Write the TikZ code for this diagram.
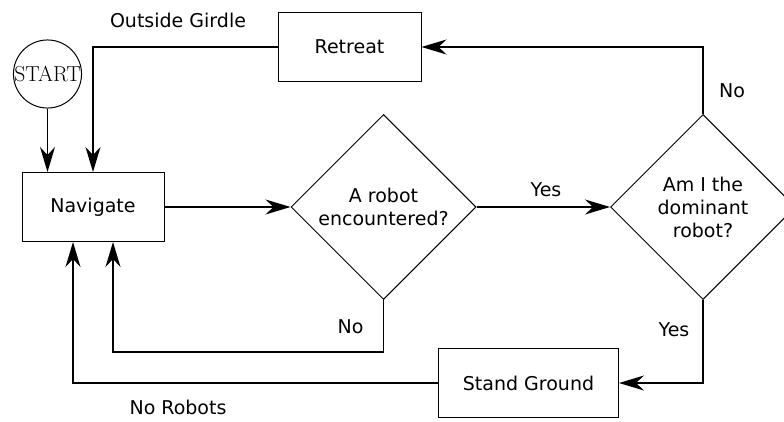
\documentclass[tikz,border=0pt]{standalone}
\usepackage{fontspec}
\usepackage{tikz}
\usetikzlibrary{shapes.geometric, arrows.meta}
\newfontfamily\flowfont{DejaVu Sans}
\tikzstyle{arrow} = [line width=1.4pt,-{Stealth[length=25pt,width=15pt,inset=8pt]}]
\tikzstyle{process} = [rectangle, draw, line width=1pt, minimum height=69pt, inner sep=0pt,
  font=\flowfont\fontsize{19}{23}\selectfont]
\tikzstyle{decision} = [diamond, draw, line width=1pt, minimum size=185pt, inner sep=0pt,
  align=center, font=\flowfont\fontsize{19}{23}\selectfont]
\tikzstyle{startstop} = [circle, draw, line width=1pt, inner sep=0pt,
  font=\fontsize{21.7}{25}\selectfont]
\tikzstyle{lbl} = [font=\flowfont\fontsize{19}{23}\selectfont]

\begin{document}
\begin{tikzpicture}[x=1pt,y=1pt]
      \useasboundingbox (0,0) rectangle (784,421);

      % Kotak dan keputusan
      \node[startstop] (start) at (47.5,347) {START};
      \node[process, minimum width=142pt] (navigate) at (93,214) {Navigate};
      \node[process, minimum width=143pt] (retreat) at (349.5,374) {Retreat};
      \node[process, minimum width=180pt] (stand) at (528.5,38) {Stand Ground};
      \node[decision] (robot) at (383.5,214) {A robot\\encountered?};
      \node[decision] (dominant) at (703,214) {Am I the\\dominant\\robot?};

      % Label panah
      \node[lbl] (girdle) at (178,401) {Outside Girdle};
      \node[lbl] (yes1) at (546,231) {Yes};
      \node[lbl] (no1) at (732,330) {No};
      \node[lbl] (yes2) at (674,91) {Yes};
      \node[lbl] (no2) at (350.5,94) {No};
      \node[lbl] (norobots) at (178,14) {No Robots};

      % Panah
      \draw[arrow] (start.south) -- (start.south |- navigate.north);
      \draw[arrow] (retreat.west) -| (navigate.north);
      \draw[arrow] (navigate.east) -- (robot.west);
      \draw[arrow] (robot.east) -- (dominant.west);
      \draw[arrow] (dominant.north) |- (retreat.east);
      \draw[arrow] (dominant.south) |- (stand.east);
      \draw[arrow] (stand.west) -| ([xshift=-20pt]navigate.south);
      \draw[arrow] (robot.south) -- ++(0,-52) -| ([xshift=20pt]navigate.south);

\end{tikzpicture}
\end{document}
